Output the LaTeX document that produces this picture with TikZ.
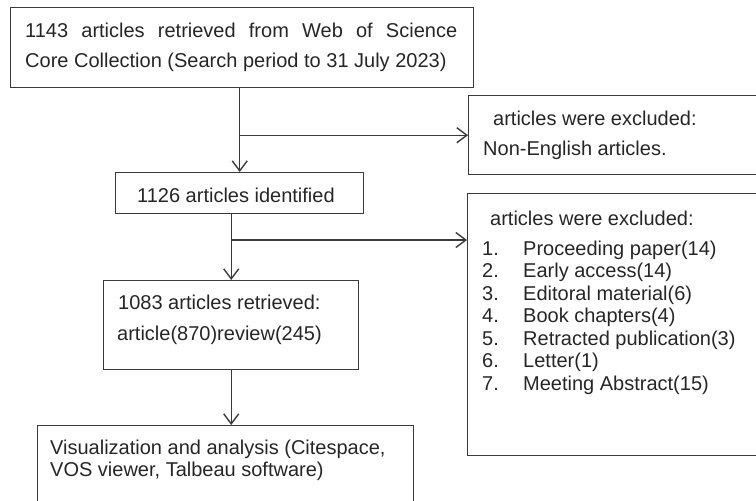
\documentclass[tikz,border=0pt]{standalone}
\usepackage{fontspec}
\setmainfont{Liberation Sans}
\usetikzlibrary{arrows.meta}
\definecolor{linec}{HTML}{3A3A3A}
\definecolor{textc}{HTML}{262626}
\begin{document}
\begin{tikzpicture}[x=1pt,y=-1pt,
  box/.style={draw=linec, line width=1.4pt, rectangle, inner sep=0pt, anchor=north west},
  txt/.style={anchor=base west, inner sep=0pt, text=textc, font=\fontsize{20}{22}\selectfont},
  arr/.style={draw=linec, line width=1.4pt, -{Straight Barb[length=10pt,width=15pt,line width=1.4pt]}},
  ln/.style={draw=linec, line width=1.4pt}]
\useasboundingbox (0,0) rectangle (756,501);
\clip (0,0) rectangle (756,501);
% boxes
\node[box, minimum width=463pt, minimum height=80pt] (b1) at (10,7) {};
\node[box, minimum width=248pt, minimum height=41pt] (b2) at (115,172) {};
\node[box, minimum width=255pt, minimum height=89pt] (b3) at (103,280) {};
\node[box, minimum width=376pt, minimum height=90pt] (b4) at (37,425) {};
\node[box, minimum width=300pt, minimum height=79pt] (e1) at (468,95) {};
\node[box, minimum width=300pt, minimum height=262pt] (e2) at (467,193) {};
% texts
\node[txt] (t1) at (25,37) {\hbox to 432pt{1143\hfill articles\hfill retrieved\hfill from\hfill Web\hfill of\hfill Science}};
\node[txt] (t2) at (25,67) {Core Collection (Search period to 31 July 2023)};
\node[txt] (t3) at (137,202) {1126 articles identified};
\node[txt] (t4) at (118,309) {1083 articles retrieved:};
\node[txt] (t5) at (117,340) {article(870)review(245)};
\node[txt] (t6) at (50,454) {Visualization and analysis (Citespace,};
\node[txt] (t7) at (50,476) {VOS viewer, Talbeau software)};
\node[txt] (t8) at (493,125) {articles were excluded:};
\node[txt] (t9) at (483,155) {Non-English articles.};
\node[txt] (t10) at (490,225) {articles were excluded:};
\foreach \n/\s [count=\i from 0] in {1/Proceeding paper(14),2/Early access(14),3/Editoral material(6),4/Book chapters(4),5/Retracted publication(3),6/Letter(1),7/Meeting Abstract(15)}{
  \node[txt] (n\n) at (482,255+22.5*\i) {\n.};
  \node[txt] (s\n) at (523,255+22.5*\i) {\s};
}
% connectors
\coordinate (j1) at (b2.north |- e1.west);
\draw[arr] (b2.north |- b1.south) -- (b2.north);
\draw[arr] (j1) -- (e1.west);
\coordinate (j2) at (231,240);
\draw[arr] (b3.north |- b2.south) -- (b3.north);
\draw[arr] (b3.north |- j2) -- (e2.west |- j2);
\draw[arr] (b3.south) -- (b3.south |- b4.north);
\end{tikzpicture}
\end{document}
